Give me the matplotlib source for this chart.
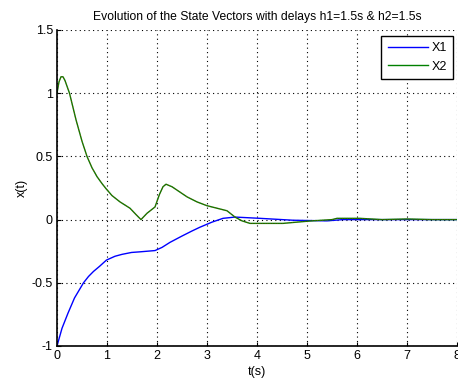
import matplotlib
matplotlib.use('Agg')
import matplotlib.pyplot as plt

plt.rcParams['font.family'] = ['Liberation Sans', 'DejaVu Sans']
plt.rcParams['font.size'] = 9

# X1 state (blue)
t1 = [0, 0.05, 0.1, 0.22, 0.35, 0.53, 0.63, 0.73, 0.85, 0.99, 1.16, 1.3, 1.49,
      1.66, 1.96, 2.1, 2.26, 2.5, 2.7, 2.86, 3.1, 3.32, 3.56, 4.06, 4.72, 5.4,
      5.72, 6.5, 7.0, 8.0]
x1 = [-1, -0.93, -0.86, -0.74, -0.62, -0.5, -0.45, -0.41, -0.37, -0.32, -0.29,
      -0.275, -0.26, -0.255, -0.245, -0.22, -0.18, -0.13, -0.09, -0.06, -0.02,
      0.01, 0.02, 0.01, -0.005, -0.01, 0.0, 0.0, 0.0, 0.0]

# X2 state (green)
t2 = [0, 0.04, 0.08, 0.12, 0.16, 0.25, 0.38, 0.5, 0.6, 0.7, 0.8, 0.9, 0.98,
      1.1, 1.26, 1.46, 1.58, 1.68, 1.8, 1.96, 2.05, 2.12, 2.18, 2.3, 2.45,
      2.6, 2.8, 3.0, 3.2, 3.4, 3.56, 3.7, 3.86, 4.2, 4.52, 4.8, 5.1, 5.5,
      5.6, 6.06, 6.5, 7.0, 7.5, 8.0]
x2 = [1.0, 1.09, 1.13, 1.13, 1.1, 1.0, 0.79, 0.62, 0.5, 0.41, 0.34, 0.285,
      0.245, 0.19, 0.14, 0.09, 0.04, 0.0, 0.05, 0.1, 0.2, 0.26, 0.28, 0.26,
      0.22, 0.18, 0.14, 0.11, 0.09, 0.07, 0.02, -0.01, -0.03, -0.03, -0.03,
      -0.02, -0.01, 0.0, 0.01, 0.01, 0.0, 0.005, 0.0, 0.0]

xticks = [0, 1, 2, 3, 4, 5, 6, 7, 8]
yticks = [-1, -0.5, 0, 0.5, 1, 1.5]
ytick_labels = ['-1', '-0.5', '0', '0.5', '1', '1.5']

fig = plt.figure(figsize=(4.58, 3.84), dpi=100)
ax = fig.add_axes([57/458, 38/384, 400/458, 316/384])

ax.plot(t1, x1, color=(0, 0, 1), lw=1, label='X1')
ax.plot(t2, x2, color=(0, 0.5, 0), lw=1, label='X2')
ax.plot(t2, x2, color='red', lw=0.6, ls=(0, (1, 2)), alpha=0.6)

ax.set_xlim(0, 8)
ax.set_ylim(-1, 1.5)
ax.set_xticks(xticks)
ax.set_yticks(yticks)
ax.set_yticklabels(ytick_labels)
ax.grid(True, color='black', ls=(0, (1, 3)), lw=0.8)
ax.tick_params(direction='in', length=3, color='black', pad=3)
ax.spines['top'].set_visible(False)
ax.spines['right'].set_visible(False)
ax.spines['left'].set_linewidth(1.2)
ax.spines['bottom'].set_linewidth(1.2)

ax.set_title('Evolution of the State Vectors with delays h1=1.5s & h2=1.5s',
             fontsize=8.7, pad=7)
ax.set_xlabel('t(s)', labelpad=3)
ax.set_ylabel('x(t)', labelpad=3)

leg = ax.legend(loc='upper right', bbox_to_anchor=(0.99, 0.981),
                borderaxespad=0, fancybox=False, framealpha=1,
                edgecolor='black', handlelength=3.2, handletextpad=0.3,
                borderpad=0.5)
leg.get_frame().set_linewidth(1)

fig.savefig('out.png', dpi=100)
